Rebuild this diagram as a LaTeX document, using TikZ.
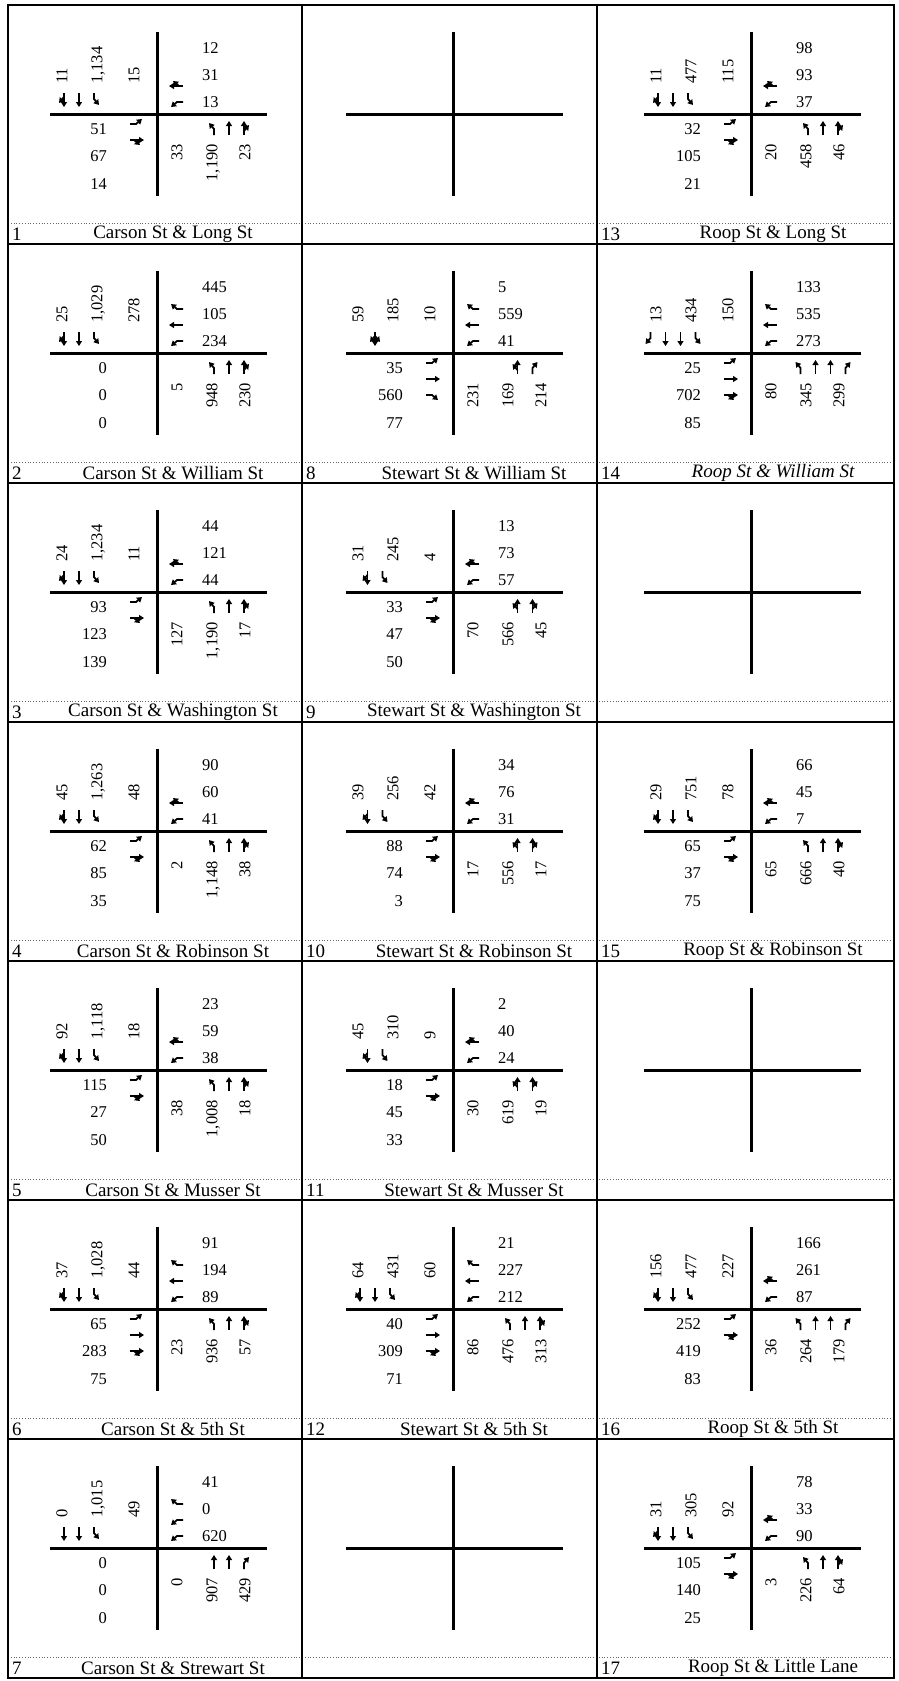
\documentclass[tikz,border=0pt]{standalone}
\usepackage{fontspec}
\setmainfont{Liberation Serif}
\usetikzlibrary{arrows.meta, calc}

% lane arrows, drawn pointing north; rotated per approach
\newcommand{\laneT}{\draw[lanearrow] (0,7) -- (0,-7);}
\newcommand{\laneL}{\draw[lanearrow] (0,7) -- (0,1) -- (-5,-5);}
\newcommand{\laneR}{\draw[lanearrow] (0,7) -- (0,1) -- (5,-5);}
\newcommand{\laneTR}{\laneT\draw[lanearrow] (0,3) -- (5,-3);}
\newcommand{\laneLT}{\laneT\draw[lanearrow] (0,3) -- (-5,-3);}
\newcommand{\laneLTR}{\laneLT\draw[lanearrow] (0,3) -- (5,-3);}

% crossing of the two streets
\newcommand{\xing}[3]{%
  \coordinate (x#1) at (#2,#3);
  \draw[road] ($(x#1)+(0,-82)$) -- ($(x#1)+(0,82)$);
  \draw[road] ($(x#1)+(-107,0)$) -- ($(x#1)+(110,0)$);
}

% volumes: SB (west to east) and WB (top to bottom)
\newcommand{\volsnorth}[7]{%
  \node[vol, rotate=90, anchor=west] (c#1sb1) at ($(x#1)+(-95,-30)$) {#2};
  \node[vol, rotate=90, anchor=west] (c#1sb2) at ($(x#1)+(-60,-30)$) {#3};
  \node[vol, rotate=90, anchor=west] (c#1sb3) at ($(x#1)+(-23,-30)$) {#4};
  \node[vol, anchor=west] (c#1wb1) at ($(x#1)+(45,-66)$) {#5};
  \node[vol, anchor=west] (c#1wb2) at ($(x#1)+(45,-39)$) {#6};
  \node[vol, anchor=west] (c#1wb3) at ($(x#1)+(45,-12)$) {#7};
}
% volumes: EB (top to bottom) and NB (west to east)
\newcommand{\volssouth}[7]{%
  \node[vol, anchor=east] (c#1eb1) at ($(x#1)+(-50,15)$) {#2};
  \node[vol, anchor=east] (c#1eb2) at ($(x#1)+(-50,42)$) {#3};
  \node[vol, anchor=east] (c#1eb3) at ($(x#1)+(-50,70)$) {#4};
  \node[vol, rotate=90, anchor=east] (c#1nb1) at ($(x#1)+(20,30)$) {#5};
  \node[vol, rotate=90, anchor=east] (c#1nb2) at ($(x#1)+(55,30)$) {#6};
  \node[vol, rotate=90, anchor=east] (c#1nb3) at ($(x#1)+(88,30)$) {#7};
}

% lane groups: SB and NB listed from the kerb, EB and WB from the centre line
\newcommand{\sblanes}[2]{%
  \foreach \k [count=\n] in {#2} {\xdef\nlanes{\n}}
  \foreach \k [count=\i] in {#2} {
    \begin{scope}[shift={($(#1)+({-78+15*(\i-(\nlanes+1)/2)},-14)$)}, rotate=180]
      \csname lane\k\endcsname
    \end{scope}}
}
\newcommand{\nblanes}[2]{%
  \foreach \k [count=\n] in {#2} {\xdef\nlanes{\n}}
  \foreach \k [count=\i] in {#2} {
    \begin{scope}[shift={($(#1)+({72-15*(\i-(\nlanes+1)/2)},14)$)}]
      \csname lane\k\endcsname
    \end{scope}}
}
\newcommand{\wblanes}[2]{%
  \foreach \k [count=\i] in {#2} {
    \begin{scope}[shift={($(#1)+(19,{-12-16*(\i-1)})$)}, rotate=90]
      \csname lane\k\endcsname
    \end{scope}}
}
\newcommand{\eblanes}[2]{%
  \foreach \k [count=\i] in {#2} {
    \begin{scope}[shift={($(#1)+(-20,{10+16*(\i-1)})$)}, rotate=-90]
      \csname lane\k\endcsname
    \end{scope}}
}

% number and street names in the strip at the foot of a cell
\newcommand{\cellname}[5]{%
  \node[lbl, anchor=west] (n#1) at (#2+4,#4-10) {#1};
  \node[lbl] (s#1) at (#3,#4-10) {#5};
}

\begin{document}
\begin{tikzpicture}[x=1pt, y=-1pt,
    gridline/.style={line width=2.5pt},
    road/.style={line width=3pt},
    labelrule/.style={dotted, line width=0.8pt, draw=black!60},
    vol/.style={inner sep=0pt, text depth=0pt, font=\fontsize{16.5}{16.5}\selectfont},
    lbl/.style={inner sep=0pt, font=\fontsize{19}{19}\selectfont},
    lanearrow/.style={line width=1.8pt, -{Triangle[length=5pt, width=6pt]}}
]
    \useasboundingbox (0,0) rectangle (898,1681);

    % table: 3 columns, 7 rows
    \foreach \r in {1,...,7}
        \draw[labelrule] (8,{5+239*\r-21}) -- (894,{5+239*\r-21});
    \draw[gridline] (8,5) rectangle (894,1678);
    \foreach \x in {302,597}
        \draw[gridline] (\x,5) -- (\x,1678);
    \foreach \r in {1,...,6}
        \draw[gridline] (8,{5+239*\r}) -- (894,{5+239*\r});

    % column 1: Carson St
    \xing{1}{157}{114}
    \volsnorth{1}{11}{1,134}{15}{12}{31}{13}
    \volssouth{1}{51}{67}{14}{33}{1,190}{23}
    \sblanes{x1}{TR,T,L} \wblanes{x1}{L,TR} \eblanes{x1}{L,TR} \nblanes{x1}{TR,T,L}
    \cellname{1}{8}{173}{244}{Carson St \& Long St}

    \xing{2}{157}{353}
    \volsnorth{2}{25}{1,029}{278}{445}{105}{234}
    \volssouth{2}{0}{0}{0}{5}{948}{230}
    \sblanes{x2}{TR,T,L} \wblanes{x2}{L,T,R} \nblanes{x2}{TR,T,L}
    \cellname{2}{8}{173}{483}{Carson St \& William St}

    \xing{3}{157}{592}
    \volsnorth{3}{24}{1,234}{11}{44}{121}{44}
    \volssouth{3}{93}{123}{139}{127}{1,190}{17}
    \sblanes{x3}{TR,T,L} \wblanes{x3}{L,TR} \eblanes{x3}{L,TR} \nblanes{x3}{TR,T,L}
    \cellname{3}{8}{173}{722}{Carson St \& Washington St}

    \xing{4}{157}{831}
    \volsnorth{4}{45}{1,263}{48}{90}{60}{41}
    \volssouth{4}{62}{85}{35}{2}{1,148}{38}
    \sblanes{x4}{TR,T,L} \wblanes{x4}{L,TR} \eblanes{x4}{L,TR} \nblanes{x4}{TR,T,L}
    \cellname{4}{8}{173}{961}{Carson St \& Robinson St}

    \xing{5}{157}{1070}
    \volsnorth{5}{92}{1,118}{18}{23}{59}{38}
    \volssouth{5}{115}{27}{50}{38}{1,008}{18}
    \sblanes{x5}{TR,T,L} \wblanes{x5}{L,TR} \eblanes{x5}{L,TR} \nblanes{x5}{TR,T,L}
    \cellname{5}{8}{173}{1200}{Carson St \& Musser St}

    \xing{6}{157}{1309}
    \volsnorth{6}{37}{1,028}{44}{91}{194}{89}
    \volssouth{6}{65}{283}{75}{23}{936}{57}
    \sblanes{x6}{TR,T,L} \wblanes{x6}{L,T,R} \eblanes{x6}{L,T,TR} \nblanes{x6}{TR,T,L}
    \cellname{6}{8}{173}{1439}{Carson St \& 5th St}

    \xing{7}{157}{1548}
    \volsnorth{7}{0}{1,015}{49}{41}{0}{620}
    \volssouth{7}{0}{0}{0}{0}{907}{429}
    \sblanes{x7}{T,T,L} \wblanes{x7}{L,L,R} \nblanes{x7}{R,T,T}
    \cellname{7}{8}{173}{1678}{Carson St \& Strewart St}

    % column 2: Stewart St
    \xing{e1}{453}{114}

    \xing{8}{453}{353}
    \volsnorth{8}{59}{185}{10}{5}{559}{41}
    \volssouth{8}{35}{560}{77}{231}{169}{214}
    \sblanes{x8}{LTR} \wblanes{x8}{L,T,R} \eblanes{x8}{L,T,R} \nblanes{x8}{R,LT}
    \cellname{8}{302}{474}{483}{Stewart St \& William St}

    \xing{9}{453}{592}
    \volsnorth{9}{31}{245}{4}{13}{73}{57}
    \volssouth{9}{33}{47}{50}{70}{566}{45}
    \sblanes{x9}{TR,L} \wblanes{x9}{L,TR} \eblanes{x9}{L,TR} \nblanes{x9}{TR,LT}
    \cellname{9}{302}{474}{722}{Stewart St \& Washington St}

    \xing{10}{453}{831}
    \volsnorth{10}{39}{256}{42}{34}{76}{31}
    \volssouth{10}{88}{74}{3}{17}{556}{17}
    \sblanes{x10}{TR,L} \wblanes{x10}{L,TR} \eblanes{x10}{L,TR} \nblanes{x10}{TR,LT}
    \cellname{10}{302}{474}{961}{Stewart St \& Robinson St}

    \xing{11}{453}{1070}
    \volsnorth{11}{45}{310}{9}{2}{40}{24}
    \volssouth{11}{18}{45}{33}{30}{619}{19}
    \sblanes{x11}{TR,L} \wblanes{x11}{L,TR} \eblanes{x11}{L,TR} \nblanes{x11}{TR,LT}
    \cellname{11}{302}{474}{1200}{Stewart St \& Musser St}

    \xing{12}{453}{1309}
    \volsnorth{12}{64}{431}{60}{21}{227}{212}
    \volssouth{12}{40}{309}{71}{86}{476}{313}
    \sblanes{x12}{TR,T,L} \wblanes{x12}{L,T,R} \eblanes{x12}{L,T,TR} \nblanes{x12}{TR,T,L}
    \cellname{12}{302}{474}{1439}{Stewart St \& 5th St}

    \xing{e2}{453}{1548}

    % column 3: Roop St
    \xing{13}{751}{114}
    \volsnorth{13}{11}{477}{115}{98}{93}{37}
    \volssouth{13}{32}{105}{21}{20}{458}{46}
    \sblanes{x13}{TR,T,L} \wblanes{x13}{L,TR} \eblanes{x13}{L,TR} \nblanes{x13}{TR,T,L}
    \cellname{13}{597}{773}{244}{Roop St \& Long St}

    \xing{14}{751}{353}
    \volsnorth{14}{13}{434}{150}{133}{535}{273}
    \volssouth{14}{25}{702}{85}{80}{345}{299}
    \sblanes{x14}{R,T,T,L} \wblanes{x14}{L,T,R} \eblanes{x14}{L,T,TR} \nblanes{x14}{R,T,T,L}
    \cellname{14}{597}{773}{483}{\itshape Roop St \& William St}

    \xing{e3}{751}{592}

    \xing{15}{751}{831}
    \volsnorth{15}{29}{751}{78}{66}{45}{7}
    \volssouth{15}{65}{37}{75}{65}{666}{40}
    \sblanes{x15}{TR,T,L} \wblanes{x15}{L,TR} \eblanes{x15}{L,TR} \nblanes{x15}{TR,T,L}
    \cellname{15}{597}{773}{961}{Roop St \& Robinson St}

    \xing{e4}{751}{1070}

    \xing{16}{751}{1309}
    \volsnorth{16}{156}{477}{227}{166}{261}{87}
    \volssouth{16}{252}{419}{83}{36}{264}{179}
    \sblanes{x16}{TR,T,L} \wblanes{x16}{L,TR} \eblanes{x16}{L,TR} \nblanes{x16}{R,T,T,L}
    \cellname{16}{597}{773}{1439}{Roop St \& 5th St}

    \xing{17}{751}{1548}
    \volsnorth{17}{31}{305}{92}{78}{33}{90}
    \volssouth{17}{105}{140}{25}{3}{226}{64}
    \sblanes{x17}{TR,T,L} \wblanes{x17}{L,TR} \eblanes{x17}{L,TR} \nblanes{x17}{TR,T,L}
    \cellname{17}{597}{773}{1678}{Roop St \& Little Lane}
\end{tikzpicture}
\end{document}
